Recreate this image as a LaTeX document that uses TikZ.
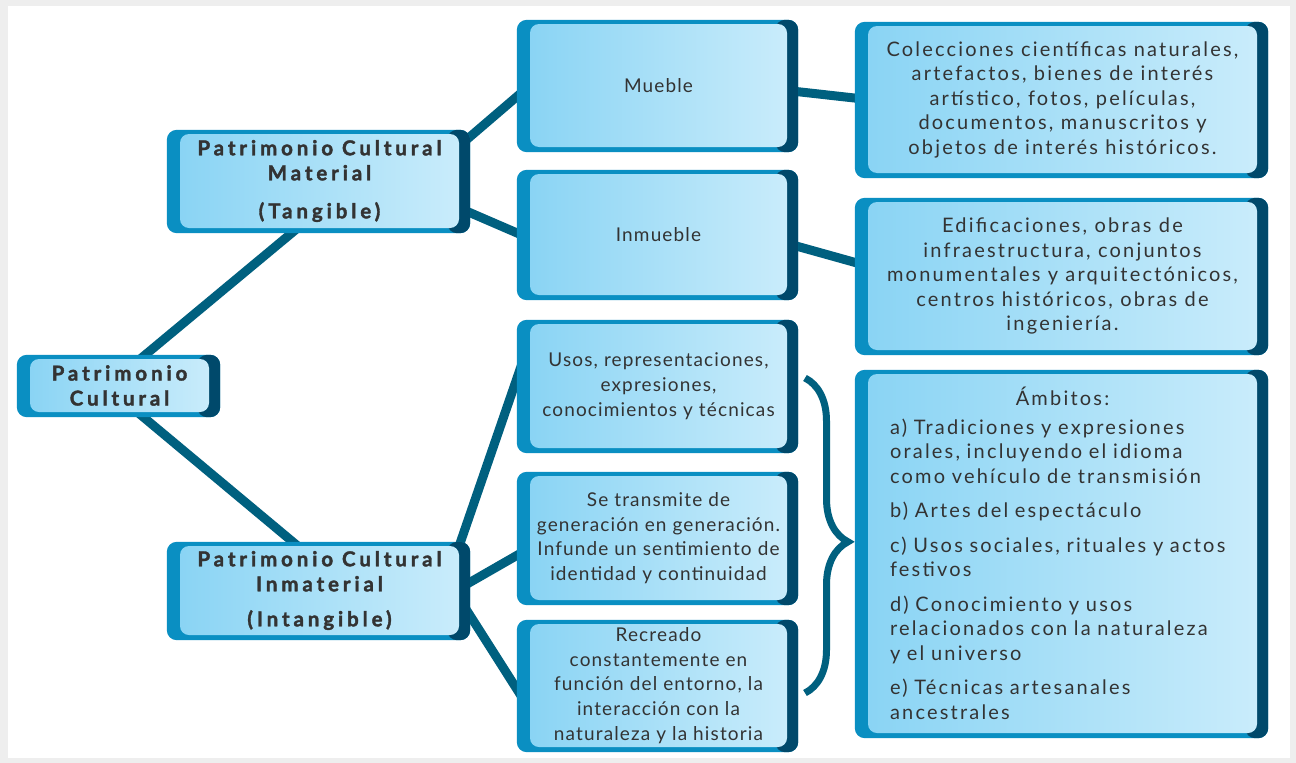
\documentclass[tikz,border=0pt]{standalone}
\usepackage{fontspec}
\setmainfont{Lato}[LetterSpace=11]
\newfontfamily\midfont{Lato}[LetterSpace=6]
\newfontfamily\headfont{Lato}[LetterSpace=19, BoldFeatures={FakeBold=1.8}]
\usetikzlibrary{backgrounds,decorations.pathreplacing}

\definecolor{framecol}{HTML}{0A8FC2}
\definecolor{shadecol}{HTML}{00496B}
\definecolor{linkcol}{HTML}{00607F}
\definecolor{boxleft}{HTML}{8AD4F4}
\definecolor{boxright}{HTML}{C9ECFB}
\definecolor{txtcol}{HTML}{333333}
\definecolor{pagegray}{HTML}{EEEEEE}

\tikzset{
  box/.style={rounded corners=9pt, left color=boxleft, right color=boxright,
    text=txtcol, inner sep=0pt, align=center,
    font=\fontsize{20}{24.5}\selectfont},
  midbox/.style={box, minimum width=257pt, font=\midfont\fontsize{19}{24.7}\selectfont},
  headbox/.style={box, font=\headfont\bfseries\fontsize{20.5}{25}\selectfont},
  link/.style={draw=linkcol, line width=9pt},
  bracket/.style={draw=linkcol, line width=7pt, decorate,
    decoration={brace, amplitude=43pt, aspect=0.52}},
}

\begin{document}
\begin{tikzpicture}[x=1pt, y=-1pt]
\useasboundingbox (0,0) rectangle (1296,763);

\node[headbox, minimum width=179pt, minimum height=53pt] (pc) at (119.5,385.5) {Patrimonio\\Cultural};
\node[headbox, minimum width=279pt, minimum height=94pt] (mat) at (319.5,181) {Patrimonio Cultural\\Material\\[13pt](Tangible)};
\node[headbox, minimum width=279pt, minimum height=89pt] (inm) at (319.5,590.5) {Patrimonio Cultural\\Inmaterial\\[10pt](Intangible)};

\node[midbox, minimum height=123pt] (mue) at (658.5,85.5) {Mueble};
\node[midbox, minimum height=121pt] (inmu) at (658.5,234.5) {Inmueble};
\node[midbox, minimum height=124pt] (usos) at (658.5,386) {Usos, representaciones,\\expresiones,\\conocimientos y técnicas};
\node[midbox, minimum height=124pt] (trans) at (658.5,538) {Se transmite de\\generación en generación.\\Infunde un sentimiento de\\identidad y continuidad};
\node[midbox, minimum height=123pt] (recr) at (658.5,685.5) {Recreado\\constantemente en\\función del entorno, la\\interacción con la\\naturaleza y la historia};

\node[box, minimum width=389pt, minimum height=147pt] (col) at (1062.5,99.5) {Colecciones científicas naturales,\\artefactos, bienes de interés\\artístico, fotos, películas,\\documentos, manuscritos y\\objetos de interés históricos.};
\node[box, minimum width=389pt, minimum height=148pt] (edif) at (1062.5,276) {Edificaciones, obras de\\infraestructura, conjuntos\\monumentales y arquitectónicos,\\centros históricos, obras de\\ingeniería.};
\node[box, minimum width=389pt, minimum height=359pt, text width=345pt, align=left] (amb) at (1062.5,553.5) {\makebox[345pt]{Ámbitos:}\\[4pt]
a) Tradiciones y expresiones\\orales, incluyendo el idioma\\como vehículo de transmisión\\[10pt]
b) Artes del espectáculo\\[10pt]
c) Usos sociales, rituales y actos\\festivos\\[10pt]
d) Conocimiento y usos\\relacionados con la naturaleza\\y el universo\\[10pt]
e) Técnicas artesanales\\ancestrales};

\coordinate (brtop) at (805,378);
\coordinate (brbot) at (805,693);
\draw[bracket] (brtop) -- (brbot);

\begin{scope}[on background layer]
\fill[pagegray] (0,0) rectangle (1296,763);
\fill[white] (8,6) rectangle (1290,758);
\draw[link] ([xshift=21pt]pc.north) -- ([xshift=-22pt]mat.south);
\draw[link] ([xshift=18pt]pc.south) -- ([xshift=-22pt]inm.north);
\draw[link] ([yshift=35pt]mat.east) -- (mue.west);
\draw[link] ([yshift=-27pt]mat.east) -- ([yshift=-4pt]inmu.west);
\draw[link] ([yshift=-5pt]mue.east) -- (col.west);
\draw[link] ([yshift=-9pt]inmu.east) -- ([yshift=10pt]edif.west);
\draw[link] (inm.north east) -- ([yshift=45pt]usos.west);
\draw[link] ([yshift=2pt]inm.east) -- ([yshift=-10pt]trans.west);
\draw[link] ([yshift=-8pt]inm.east) -- ([yshift=-24pt]recr.west);
\foreach \n in {pc,mat,inm,mue,inmu,usos,trans,recr,col,edif,amb} {
  \fill[framecol, rounded corners=10pt] ([xshift=-13pt,yshift=4pt]\n.north west) rectangle ([xshift=11pt,yshift=-5pt]\n.south east);
  \fill[shadecol, rounded corners=10pt] ([xshift=-12pt,yshift=4pt]\n.north east) rectangle ([xshift=11pt,yshift=-5pt]\n.south east);
}
\end{scope}
\end{tikzpicture}
\end{document}
